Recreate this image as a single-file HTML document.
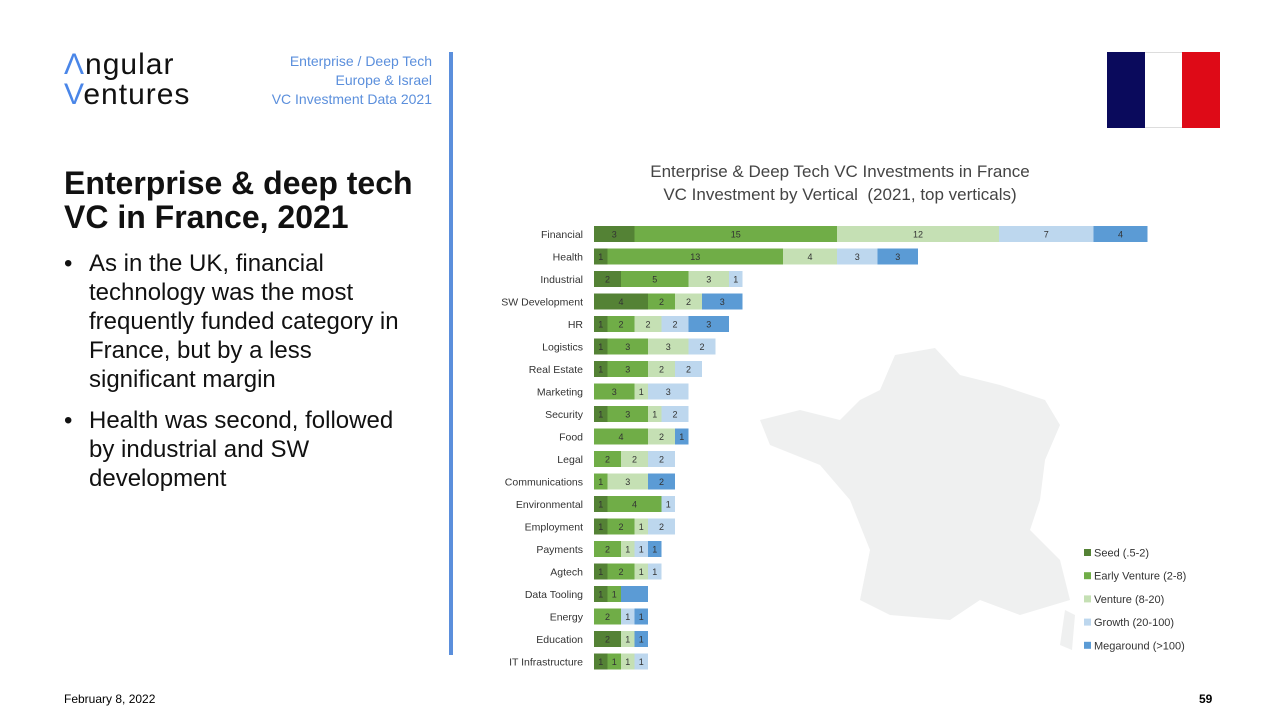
<!DOCTYPE html>
<html><head><meta charset="utf-8"><style>
body{margin:0;width:1280px;height:720px;background:#fff;font-family:"Liberation Sans",sans-serif;position:relative;overflow:hidden}
.abs{position:absolute}
.bl{display:flex}
.bl span:first-child{width:25px;flex:none}
</style></head><body>
<div class="abs" style="left:64px;top:50px;font-size:30px;line-height:30px;color:#111;letter-spacing:1px"><span style="color:#4a86e8">&#923;</span>ngular<br><span style="color:#4a86e8">V</span>entures</div>
<div class="abs" style="right:848px;top:52px;text-align:right;font-size:14px;line-height:19px;color:#5b8fdc">Enterprise / Deep Tech<br>Europe &amp; Israel<br>VC Investment Data 2021</div>
<div class="abs" style="left:449px;top:52px;width:4px;height:603px;background:#5b8fdc"></div>
<div class="abs" style="left:64px;top:166px;font-size:32px;line-height:34px;font-weight:bold;color:#111">Enterprise &amp; deep tech<br>VC in France, 2021</div>
<div class="abs" style="left:64px;top:249px;width:360px;font-size:24px;line-height:29px;color:#111">
<div class="bl"><span>•</span><span>As in the UK, financial technology was the most frequently funded category in France, but by a less significant margin</span></div>
<div class="bl" style="margin-top:12px"><span>•</span><span>Health was second, followed by industrial and SW development</span></div></div>
<div class="abs" style="left:64px;top:692px;font-size:12px">February 8, 2022</div>
<div class="abs" style="left:1199px;top:692px;font-size:12px;font-weight:bold">59</div>
<div class="abs" style="left:1107px;top:52px;width:113px;height:76px;display:flex"><div style="flex:1;background:#0a0a5c"></div><div style="flex:1;background:#fff;border-top:1px solid #ddd;border-bottom:1px solid #ddd"></div><div style="flex:1;background:#de0a17"></div></div>
<div class="abs" style="left:560px;top:160px;width:560px;text-align:center;font-size:17px;line-height:23px;color:#444">Enterprise &amp; Deep Tech VC Investments in France<br>VC Investment by Vertical&nbsp; (2021, top verticals)</div>
<svg class="abs" style="left:0;top:0" width="1280" height="720">
<polygon fill="#eff0f0" points="895,355 935,348 960,375 1000,385 1045,400 1060,425 1045,460 1040,500 1030,530 1060,560 1070,600 1020,615 980,600 950,620 890,615 860,600 870,550 850,500 820,465 770,445 760,420 800,410 840,420 860,400 880,390"/>
<polygon fill="#eff0f0" points="1065,610 1075,615 1072,650 1060,645"/>
<g id="bars"></g><g id="labels"></g><g id="legend"></g>
</svg>
<script>
const categories=["Financial","Health","Industrial","SW Development","HR","Logistics","Real Estate","Marketing","Security","Food","Legal","Communications","Environmental","Employment","Payments","Agtech","Data Tooling","Energy","Education","IT Infrastructure"];
const seriesNames=["Seed (.5-2)","Early Venture (2-8)","Venture (8-20)","Growth (20-100)","Megaround (>100)"];
const seed=[3,1,2,4,1,1,1,0,1,0,0,0,1,1,0,1,1,0,2,1];
const early=[15,13,5,2,2,3,3,3,3,4,2,1,4,2,2,2,1,2,0,1];
const venture=[12,4,3,2,2,3,2,1,1,2,2,3,0,1,1,1,0,0,1,1];
const growth=[7,3,1,0,2,2,2,3,2,0,2,0,1,2,1,1,0,1,0,1];
const mega=[4,3,0,3,3,0,0,0,0,1,0,2,0,0,1,0,2,1,1,0];
const hiddenLabelRow="Data Tooling";
const colors=["#548235","#70ad47","#c5e0b4","#bdd7ee","#5b9bd5"];
const series=[seed,early,venture,growth,mega];
const ns="http://www.w3.org/2000/svg";
const x0=594,unit=13.5,y0=234,step=22.5,bh=16;
const xs=v=>x0+v*unit, ys=i=>y0+i*step;
const gb=document.getElementById('bars'),gl=document.getElementById('labels'),lg=document.getElementById('legend');
function mk(tag,attrs,parent){const e=document.createElementNS(ns,tag);for(const k in attrs)e.setAttribute(k,attrs[k]);parent.appendChild(e);return e;}
categories.forEach((c,i)=>{
  const t=mk('text',{x:583,y:ys(i)+4,'text-anchor':'end','font-size':10.5,fill:'#333'},gl);
  t.textContent=c;
  
  
  let acc=0;
  series.forEach((s,k)=>{
    const v=s[i];if(!v)return;
    const r=mk('rect',{x:xs(acc),y:ys(i)-bh/2,width:v*unit,height:bh,fill:colors[k]},gb);
    
    
    if(!(c===hiddenLabelRow&&k===4)){
      const lt=mk('text',{x:xs(acc+v/2),y:ys(i)+3.5,'text-anchor':'middle','font-size':9,fill:'#333'},gl);
      lt.textContent=v;
      
      
    }
    acc+=v;
  });
});
seriesNames.forEach((n,k)=>{
  const y=553+k*23.2;
  const r=mk('rect',{x:1084,y:y-4,width:7,height:7,fill:colors[k]},lg);
  
  
  const t=mk('text',{x:1094,y:y+3.5,'font-size':11,fill:'#333'},lg);
  t.textContent=n;
  
  
});
</script>
</body></html>
